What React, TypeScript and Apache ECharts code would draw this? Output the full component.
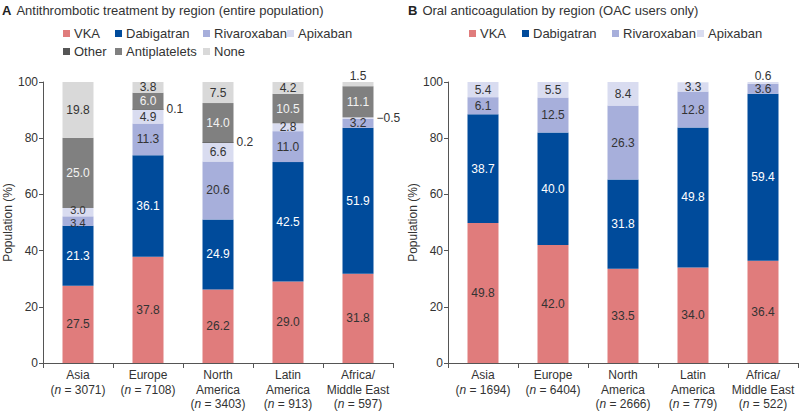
import React, { useEffect, useRef } from 'react';
import * as echarts from 'echarts';

const regions = ['Asia', 'Europe', 'North\nAmerica', 'Latin\nAmerica', 'Africa/\nMiddle East'];
const nA = [3071, 7108, 3403, 913, 597];
const nB = [1694, 6404, 2666, 779, 522];

// Panel A: entire population
const vkaA = [27.5, 37.8, 26.2, 29.0, 31.8];
const dabA = [21.3, 36.1, 24.9, 42.5, 51.9];
const rivA = [3.4, 11.3, 20.6, 11.0, 3.2];
const apiA = [3.0, 4.9, 6.6, 2.8, 0.5];
const otherA = [0, 0.1, 0.2, 0, 0];
const antiA = [25.0, 6.0, 14.0, 10.5, 11.1];
const noneA = [19.8, 3.8, 7.5, 4.2, 1.5];

// Panel B: OAC users only
const vkaB = [49.8, 42.0, 33.5, 34.0, 36.4];
const dabB = [38.7, 40.0, 31.8, 49.8, 59.4];
const rivB = [6.1, 12.5, 26.3, 12.8, 3.6];
const apiB = [5.4, 5.5, 8.4, 3.3, 0.6];

const FONT = "'Liberation Sans', Arial, Helvetica, sans-serif";
const C = {
  VKA: '#E07C7C',
  Dabigatran: '#004B9B',
  Rivaroxaban: '#A7AFDB',
  Apixaban: '#D9DCF0',
  Other: '#555555',
  Antiplatelets: '#808080',
  None: '#D9D9D9',
};

const outside = (position: string, text?: string, distance = 3) => {
  const l: any = { show: true, position, color: '#333', distance };
  if (text) l.formatter = text;
  return l;
};
const tight = (dy: number) => ({ show: true, position: 'inside', fontSize: 11, lineHeight: 10, offset: [0, dy] });

function items(values: number[], overrides: Record<number, any> = {}) {
  return values.map((v, i) => {
    if (v === 0) return '-';
    const it: any = { value: v };
    if (overrides[i]) it.label = overrides[i];
    return it;
  });
}

function series(name: string, data: any[], stack: string, axis: number, labelColor: string, extra: any = {}) {
  return {
    type: 'bar',
    name,
    stack,
    xAxisIndex: axis,
    yAxisIndex: axis,
    barWidth: 31,
    data,
    itemStyle: { color: (C as any)[name] },
    label: {
      show: true,
      position: 'inside',
      color: labelColor,
      fontSize: 12,
      fontFamily: FONT,
      textBorderWidth: 0,
      formatter: (p: any) => (typeof p.value === 'number' ? p.value.toFixed(1) : ''),
    },
    ...extra,
  };
}

const xLabel = (ns: number[]) => (value: string, idx: number) => {
  const lines = value.split('\n').map((l) => `{r|${l}}`);
  lines.push(`{r|(}{i|n}{r| = ${ns[idx]})}`);
  return lines.join('\n');
};

function xAxis(grid: number, ns: number[]) {
  return {
    type: 'category',
    gridIndex: grid,
    data: regions,
    axisLine: { lineStyle: { color: '#555', width: 1 } },
    axisTick: { show: true, length: 5, lineStyle: { color: '#555' } },
    axisLabel: {
      interval: 0,
      margin: 5,
      formatter: xLabel(ns),
      rich: {
        r: { fontSize: 12, color: '#333', lineHeight: 14.5, fontFamily: FONT },
        i: { fontSize: 12, color: '#333', lineHeight: 14.5, fontFamily: FONT, fontStyle: 'italic' },
      },
    },
  };
}

function yAxis(grid: number) {
  return {
    type: 'value',
    gridIndex: grid,
    min: 0,
    max: 100,
    interval: 20,
    name: 'Population (%)',
    nameLocation: 'middle',
    nameGap: 28,
    nameTextStyle: { fontSize: 12, color: '#333', fontFamily: FONT },
    axisLine: { show: true, lineStyle: { color: '#555', width: 1 } },
    axisTick: { show: true, length: 4, lineStyle: { color: '#555' } },
    axisLabel: { fontSize: 12, color: '#333', fontFamily: FONT, margin: 5 },
    splitLine: { show: false },
  };
}

const legendItems = [
  { name: 'VKA', left: 63, top: 27 },
  { name: 'Dabigatran', left: 115, top: 27 },
  { name: 'Rivaroxaban', left: 203, top: 27 },
  { name: 'Apixaban', left: 287, top: 27 },
  { name: 'Other', left: 63, top: 45 },
  { name: 'Antiplatelets', left: 115, top: 45 },
  { name: 'None', left: 203, top: 45 },
  { name: 'VKA', left: 469, top: 27 },
  { name: 'Dabigatran', left: 522, top: 27 },
  { name: 'Rivaroxaban', left: 612, top: 27 },
  { name: 'Apixaban', left: 697, top: 27 },
];

export default function App() {
  const ref = useRef<HTMLDivElement>(null);
  useEffect(() => {
    if (!ref.current) return;
    const chart = echarts.init(ref.current, undefined, { renderer: 'svg' });
    const titleRich = {
      b: { fontSize: 13, fontWeight: 'bold', color: '#222', fontFamily: FONT },
      t: { fontSize: 13, fontWeight: 'normal', color: '#333', fontFamily: FONT },
    };
    chart.setOption({
      animation: false,
      backgroundColor: '#fff',
      textStyle: { fontFamily: FONT },
      title: [
        { text: '{b|A} {t|Antithrombotic treatment by region (entire population)}', left: 2, top: 1, padding: 0, textStyle: { fontWeight: 'normal', rich: titleRich } },
        { text: '{b|B} {t|Oral anticoagulation by region (OAC users only)}', left: 408, top: 1, padding: 0, textStyle: { fontWeight: 'normal', rich: titleRich } },
      ],
      legend: legendItems.map((l) => ({
        data: [l.name],
        left: l.left,
        top: l.top,
        padding: 0,
        icon: 'rect',
        itemWidth: 7,
        itemHeight: 7,
        itemGap: 0,
        selectedMode: false,
        textStyle: { fontSize: 13, color: '#333', fontFamily: FONT, padding: [0, 0, 0, -1] },
      })),
      grid: [
        { left: 43, top: 82, width: 350, height: 281 },
        { left: 448, top: 82, width: 350, height: 281 },
      ],
      xAxis: [xAxis(0, nA), xAxis(1, nB)],
      yAxis: [yAxis(0), yAxis(1)],
      series: [
        series('VKA', items(vkaA), 'a', 0, '#333'),
        series('Dabigatran', items(dabA), 'a', 0, '#fff'),
        series('Rivaroxaban', items(rivA, { 0: tight(2) }), 'a', 0, '#333'),
        series('Apixaban', items(apiA, { 0: tight(-2), 4: outside('right', '−0.5') }), 'a', 0, '#333'),
        series('Other', items(otherA, { 1: outside('right'), 2: outside('right') }), 'a', 0, '#333', { barMinHeight: 1 }),
        series('Antiplatelets', items(antiA), 'a', 0, '#f2f2f2'),
        series('None', items(noneA, { 4: outside('top', undefined, 0) }), 'a', 0, '#333'),
        series('VKA', items(vkaB), 'b', 1, '#333'),
        series('Dabigatran', items(dabB), 'b', 1, '#fff'),
        series('Rivaroxaban', items(rivB), 'b', 1, '#333'),
        series('Apixaban', items(apiB, { 4: outside('top', undefined, 0) }), 'b', 1, '#333'),
      ],
    });
    return () => chart.dispose();
  }, []);
  return <div ref={ref} style={{ position: 'absolute', left: 0, top: 0, width: 800, height: 411 }} />;
}
